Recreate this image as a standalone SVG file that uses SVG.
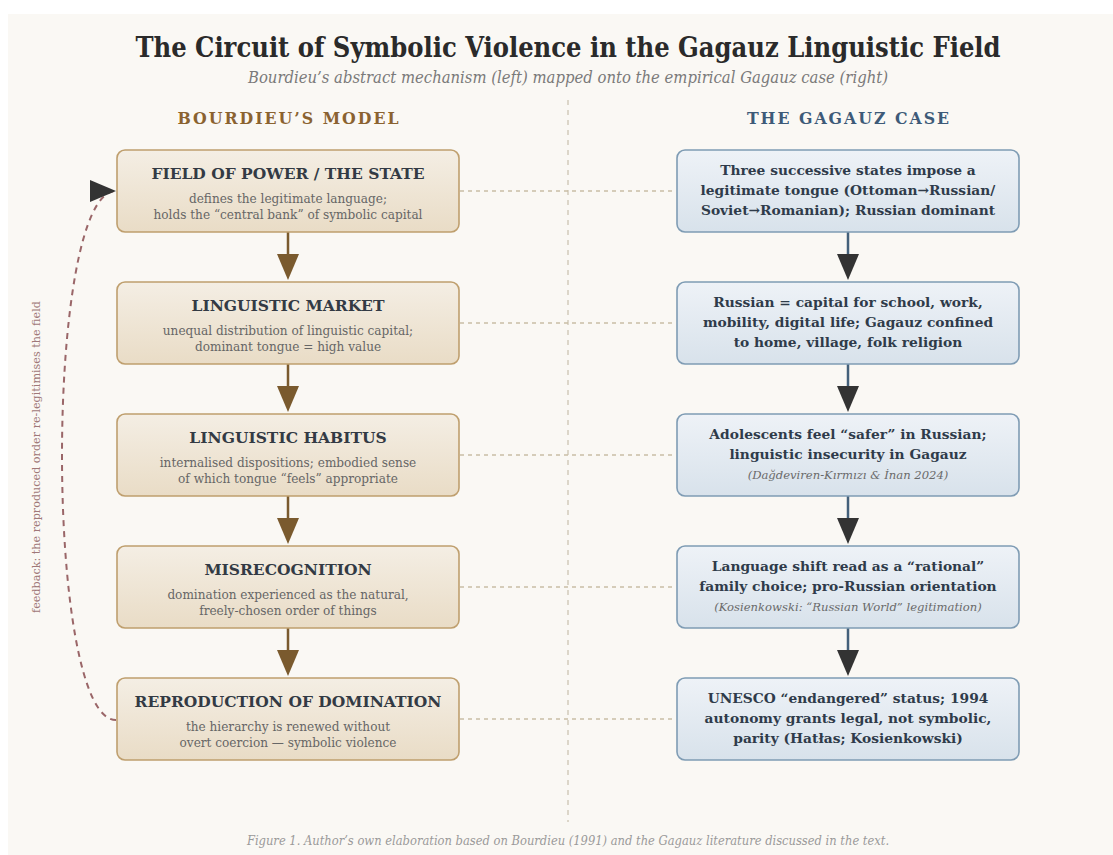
<svg xmlns="http://www.w3.org/2000/svg" width="1113" height="855" viewBox="0 0 1113 855">
<defs>
<linearGradient id="gL" x1="0" y1="0" x2="0" y2="1"><stop offset="0" stop-color="#f4eee4"/><stop offset="1" stop-color="#e9dcc6"/></linearGradient>
<linearGradient id="gR" x1="0" y1="0" x2="0" y2="1"><stop offset="0" stop-color="#eef2f7"/><stop offset="1" stop-color="#d8e2eb"/></linearGradient>
<marker id="mFb" viewBox="0 0 26 22" refX="26" refY="11" markerUnits="userSpaceOnUse" markerWidth="26" markerHeight="22" orient="auto"><path d="M0,0 L26,11 L0,22 Z" fill="#333333"/></marker>
<style>
.bg{fill:#faf8f4}
.boxL{fill:url(#gL);stroke:#bf9f6e;stroke-width:1.6}
.boxR{fill:url(#gR);stroke:#7f9cb4;stroke-width:1.6}
.title{font-family:'DejaVu Serif Condensed','DejaVu Serif',serif;font-stretch:condensed;font-weight:bold;font-size:27px;fill:#2a2a2a;text-anchor:middle}
.sub{font-family:'DejaVu Serif Condensed','DejaVu Serif',serif;font-stretch:condensed;font-style:italic;font-size:16.5px;fill:#7a7a7a;text-anchor:middle}
.colL{font-family:'DejaVu Serif Condensed','DejaVu Serif',serif;font-stretch:condensed;font-weight:bold;font-size:17.5px;letter-spacing:2px;fill:#8a6230;text-anchor:middle}
.colR{font-family:'DejaVu Serif Condensed','DejaVu Serif',serif;font-stretch:condensed;font-weight:bold;font-size:17.5px;letter-spacing:2px;fill:#3d5a78;text-anchor:middle}
.bt{font-family:'DejaVu Serif',serif;font-weight:bold;font-size:15.5px;fill:#333a44;text-anchor:middle}
.bs{font-family:'DejaVu Serif',serif;font-size:12.1px;fill:#666;text-anchor:middle}
.rt{font-family:'DejaVu Serif',serif;font-weight:bold;font-size:13.8px;fill:#2f3b4a;text-anchor:middle}
.ci{font-family:'DejaVu Serif',serif;font-style:italic;font-size:11.6px;fill:#6a6a6a;text-anchor:middle}
.cap{font-family:'DejaVu Serif Condensed','DejaVu Serif',serif;font-stretch:condensed;font-style:italic;font-size:12.8px;fill:#9a9a9a;text-anchor:middle}
.fbt{font-family:'DejaVu Serif',serif;font-size:11.2px;fill:#a07878;text-anchor:middle}
.aL{stroke:#7a5a2e;stroke-width:2.5;fill:none}
.aR{stroke:#44607a;stroke-width:2.5;fill:none}
.hd{stroke:#c9bda5;stroke-width:1.5;stroke-dasharray:4 4;fill:none}
.vd{stroke:#d2cabb;stroke-width:1.5;stroke-dasharray:5 5;fill:none}
.fb{stroke:#9a6668;stroke-width:2;stroke-dasharray:6 5;fill:none}
</style>
</defs>
<rect x="8" y="14" width="1105" height="841" class="bg"/>
<text class="title" x="568" y="57">The Circuit of Symbolic Violence in the Gagauz Linguistic Field</text>
<text class="sub" x="568" y="83">Bourdieu’s abstract mechanism (left) mapped onto the empirical Gagauz case (right)</text>
<text class="colL" x="289" y="124">BOURDIEU’S MODEL</text>
<text class="colR" x="849" y="124">THE GAGAUZ CASE</text>
<g id="connectors">
<line class="vd" x1="568" y1="100" x2="568" y2="822"/>
<line class="hd" x1="460" y1="191" x2="676" y2="191"/>
<line class="hd" x1="460" y1="323" x2="676" y2="323"/>
<line class="hd" x1="460" y1="455" x2="676" y2="455"/>
<line class="hd" x1="460" y1="587" x2="676" y2="587"/>
<line class="hd" x1="460" y1="719" x2="676" y2="719"/>
<line class="aL" x1="288" y1="232" x2="288" y2="256"/><path d="M277,254 L299,254 L288,280 Z" fill="#7a5a2e"/>
<line class="aL" x1="288" y1="364" x2="288" y2="388"/><path d="M277,386 L299,386 L288,412 Z" fill="#7a5a2e"/>
<line class="aL" x1="288" y1="496" x2="288" y2="520"/><path d="M277,518 L299,518 L288,544 Z" fill="#7a5a2e"/>
<line class="aL" x1="288" y1="628" x2="288" y2="652"/><path d="M277,650 L299,650 L288,676 Z" fill="#7a5a2e"/>
<line class="aR" x1="848" y1="232" x2="848" y2="256"/><path d="M837,254 L859,254 L848,280 Z" fill="#333"/>
<line class="aR" x1="848" y1="364" x2="848" y2="388"/><path d="M837,386 L859,386 L848,412 Z" fill="#333"/>
<line class="aR" x1="848" y1="496" x2="848" y2="520"/><path d="M837,518 L859,518 L848,544 Z" fill="#333"/>
<line class="aR" x1="848" y1="628" x2="848" y2="652"/><path d="M837,650 L859,650 L848,676 Z" fill="#333"/>
<path class="fb" d="M116,720 C44,720 44,191 116,191" marker-end="url(#mFb)"/>
<text class="fbt" transform="translate(40,457) rotate(-90)">feedback: the reproduced order re-legitimises the field</text>
</g>
<g id="L1"><rect class="boxL" x="117" y="150" width="342" height="82" rx="8"/>
<text class="bt" x="288" y="179">FIELD OF POWER / THE STATE</text>
<text class="bs" x="288" y="203">defines the legitimate language;</text>
<text class="bs" x="288" y="219">holds the “central bank” of symbolic capital</text></g>
<g id="L2"><rect class="boxL" x="117" y="282" width="342" height="82" rx="8"/>
<text class="bt" x="288" y="311">LINGUISTIC MARKET</text>
<text class="bs" x="288" y="335">unequal distribution of linguistic capital;</text>
<text class="bs" x="288" y="351">dominant tongue = high value</text></g>
<g id="L3"><rect class="boxL" x="117" y="414" width="342" height="82" rx="8"/>
<text class="bt" x="288" y="443">LINGUISTIC HABITUS</text>
<text class="bs" x="288" y="467">internalised dispositions; embodied sense</text>
<text class="bs" x="288" y="483">of which tongue “feels” appropriate</text></g>
<g id="L4"><rect class="boxL" x="117" y="546" width="342" height="82" rx="8"/>
<text class="bt" x="288" y="575">MISRECOGNITION</text>
<text class="bs" x="288" y="599">domination experienced as the natural,</text>
<text class="bs" x="288" y="615">freely-chosen order of things</text></g>
<g id="L5"><rect class="boxL" x="117" y="678" width="342" height="82" rx="8"/>
<text class="bt" x="288" y="707">REPRODUCTION OF DOMINATION</text>
<text class="bs" x="288" y="731">the hierarchy is renewed without</text>
<text class="bs" x="288" y="747">overt coercion — symbolic violence</text></g>
<g id="R1"><rect class="boxR" x="677" y="150" width="342" height="82" rx="8"/>
<text class="rt" x="848" y="175">Three successive states impose a</text>
<text class="rt" x="848" y="195">legitimate tongue (Ottoman→Russian/</text>
<text class="rt" x="848" y="215">Soviet→Romanian); Russian dominant</text></g>
<g id="R2"><rect class="boxR" x="677" y="282" width="342" height="82" rx="8"/>
<text class="rt" x="848" y="307">Russian = capital for school, work,</text>
<text class="rt" x="848" y="327">mobility, digital life; Gagauz confined</text>
<text class="rt" x="848" y="347">to home, village, folk religion</text></g>
<g id="R3"><rect class="boxR" x="677" y="414" width="342" height="82" rx="8"/>
<text class="rt" x="848" y="439">Adolescents feel “safer” in Russian;</text>
<text class="rt" x="848" y="459">linguistic insecurity in Gagauz</text>
<text class="ci" x="848" y="479">(Dağdeviren-Kırmızı &amp; İnan 2024)</text></g>
<g id="R4"><rect class="boxR" x="677" y="546" width="342" height="82" rx="8"/>
<text class="rt" x="848" y="571">Language shift read as a “rational”</text>
<text class="rt" x="848" y="591">family choice; pro-Russian orientation</text>
<text class="ci" x="848" y="611">(Kosienkowski: “Russian World” legitimation)</text></g>
<g id="R5"><rect class="boxR" x="677" y="678" width="342" height="82" rx="8"/>
<text class="rt" x="848" y="703">UNESCO “endangered” status; 1994</text>
<text class="rt" x="848" y="723">autonomy grants legal, not symbolic,</text>
<text class="rt" x="848" y="743">parity (Hatłas; Kosienkowski)</text></g>
<text class="cap" x="568" y="845">Figure 1. Author’s own elaboration based on Bourdieu (1991) and the Gagauz literature discussed in the text.</text>
</svg>
